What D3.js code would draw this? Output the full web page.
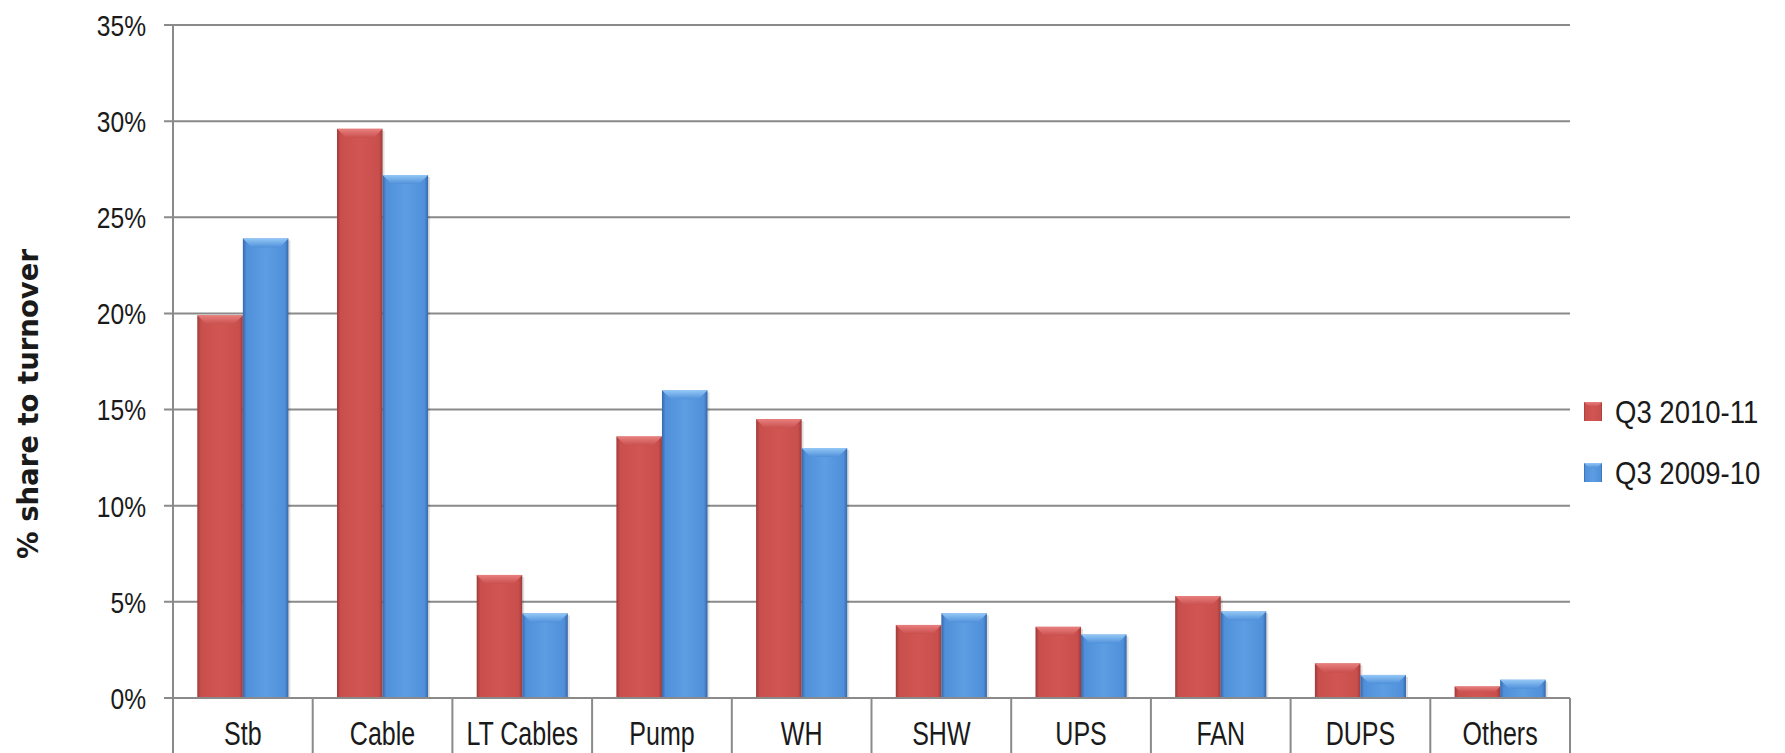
<!DOCTYPE html>
<html>
<head>
<meta charset="utf-8">
<script src="https://cdn.jsdelivr.net/npm/d3@7"></script>
<style>
  html, body { margin: 0; padding: 0; background: #ffffff; }
  svg { display: block; }
</style>
</head>
<body>
<svg id="chart" width="1785" height="753"></svg>
<script>
const categories = ["Stb", "Cable", "LT Cables", "Pump", "WH", "SHW", "UPS", "FAN", "DUPS", "Others"];
const seriesNames = ["Q3 2010-11", "Q3 2009-10"];
const q3_2010_11 = [0.199, 0.296, 0.064, 0.136, 0.145, 0.038, 0.037, 0.053, 0.018, 0.006];
const q3_2009_10 = [0.239, 0.272, 0.044, 0.160, 0.130, 0.044, 0.033, 0.045, 0.012, 0.0095];
const yTicks = [0, 0.05, 0.10, 0.15, 0.20, 0.25, 0.30, 0.35];
const yTitle = "% share to turnover";

(function () {
const seriesValues = [q3_2010_11, q3_2009_10];
const colors = [
  { id: "red",  edge: "#9e3b39", mid: "#d05553", base: "#c94f4d", top: "#e8807e" },
  { id: "blue", edge: "#3767aa", mid: "#5d9de2", base: "#5090da", top: "#93c8f6" }
];

const svg = d3.select("#chart");
const mLeft = 173, mRight = 1570, mTop = 25, mBottom = 698;
const fontSans = "'Liberation Sans', Arial, sans-serif";

const x0 = d3.scaleBand().domain(categories).range([mLeft, mRight]).paddingInner(0).paddingOuter(0);
const x1 = d3.scaleBand().domain(seriesNames).range([0, x0.bandwidth()]).paddingInner(0).paddingOuter(0.533);
const y = d3.scaleLinear().domain([0, 0.35]).range([mBottom, mTop]);

// gradients
const defs = svg.append("defs");
colors.forEach(c => {
  const g = defs.append("linearGradient").attr("id", "grad-" + c.id).attr("x1", "0").attr("x2", "1").attr("y1", "0").attr("y2", "0");
  g.append("stop").attr("offset", "0%").attr("stop-color", c.edge);
  g.append("stop").attr("offset", "8%").attr("stop-color", c.base);
  g.append("stop").attr("offset", "50%").attr("stop-color", c.mid);
  g.append("stop").attr("offset", "92%").attr("stop-color", c.base);
  g.append("stop").attr("offset", "100%").attr("stop-color", c.edge);
  const t = defs.append("linearGradient").attr("id", "top-" + c.id).attr("x1", "0").attr("x2", "0").attr("y1", "0").attr("y2", "1");
  t.append("stop").attr("offset", "0%").attr("stop-color", c.top);
  t.append("stop").attr("offset", "100%").attr("stop-color", c.base);
});

// gridlines
svg.append("g").selectAll("line").data(yTicks).join("line")
  .attr("x1", mLeft - 9).attr("x2", mRight)
  .attr("y1", d => y(d)).attr("y2", d => y(d))
  .attr("stroke", "#8a8a8a").attr("stroke-width", 2);

// y axis labels (narrowed)
svg.append("g").selectAll("text").data(yTicks).join("text")
  .attr("transform", d => `translate(146,${y(d)}) scale(0.82,1)`)
  .attr("dy", "0.36em")
  .attr("text-anchor", "end")
  .attr("font-family", fontSans)
  .attr("font-size", 30)
  .attr("fill", "#1a1a1a")
  .text(d => d3.format(".0%")(d));

// left axis line
svg.append("line").attr("x1", mLeft).attr("x2", mLeft).attr("y1", mTop).attr("y2", 753)
  .attr("stroke", "#8a8a8a").attr("stroke-width", 2);

// category separators below axis
const bounds = categories.map(c => x0(c)).concat([mRight]);
svg.append("g").selectAll("line").data(bounds).join("line")
  .attr("x1", d => d).attr("x2", d => d).attr("y1", mBottom).attr("y2", 753)
  .attr("stroke", "#8a8a8a").attr("stroke-width", 2);

// bars
const groups = svg.append("g").selectAll("g").data(categories).join("g")
  .attr("transform", d => `translate(${x0(d)},0)`);

seriesNames.forEach((s, si) => {
  const c = colors[si];
  groups.append("rect")
    .attr("x", x1(s) + 2).attr("y", (d, i) => y(seriesValues[si][i]) + 2)
    .attr("width", x1.bandwidth()).attr("height", (d, i) => mBottom - y(seriesValues[si][i]) - 2)
    .attr("fill", "rgba(0,0,0,0.12)");
  groups.append("rect")
    .attr("x", x1(s)).attr("y", (d, i) => y(seriesValues[si][i]))
    .attr("width", x1.bandwidth()).attr("height", (d, i) => mBottom - y(seriesValues[si][i]))
    .attr("fill", `url(#grad-${c.id})`);
  groups.append("path")
    .attr("d", (d, i) => {
      const yt = y(seriesValues[si][i]);
      const h = Math.min(9, (mBottom - yt) * 0.5);
      const xl = x1(s), xr = x1(s) + x1.bandwidth();
      return `M${xl},${yt}L${xr},${yt}L${xr - h},${yt + h}L${xl + h},${yt + h}Z`;
    })
    .attr("fill", `url(#top-${c.id})`);
});

// x axis baseline
svg.append("line").attr("x1", mLeft - 9).attr("x2", mRight).attr("y1", mBottom).attr("y2", mBottom)
  .attr("stroke", "#8a8a8a").attr("stroke-width", 2);

// category labels (narrowed)
svg.append("g").selectAll("text").data(categories).join("text")
  .attr("transform", d => `translate(${x0(d) + x0.bandwidth() / 2},745) scale(0.77,1)`)
  .attr("text-anchor", "middle")
  .attr("font-family", fontSans)
  .attr("font-size", 32.5)
  .attr("fill", "#1a1a1a")
  .text(d => d);

// y title
svg.append("text")
  .attr("transform", `translate(38,404) rotate(-90)`)
  .attr("text-anchor", "middle")
  .attr("font-family", "'DejaVu Sans', Verdana, sans-serif")
  .attr("font-weight", "bold")
  .attr("font-size", 27.5)
  .attr("fill", "#1a1a1a")
  .text(yTitle);

// legend
const legend = svg.append("g").selectAll("g").data(seriesNames).join("g")
  .attr("transform", (d, i) => `translate(1584,${411 + i * 61})`);
legend.append("rect").attr("x", 0).attr("y", -9).attr("width", 18).attr("height", 19)
  .attr("fill", (d, i) => `url(#grad-${colors[i].id})`);
legend.append("path").attr("d", "M0,-9L18,-9L13,-4L5,-4Z")
  .attr("fill", (d, i) => `url(#top-${colors[i].id})`);
legend.append("text")
  .attr("transform", "translate(31,0) scale(0.86,1)")
  .attr("dy", "0.36em")
  .attr("font-family", fontSans)
  .attr("font-size", 32)
  .attr("fill", "#1a1a1a")
  .text(d => d);
})();
</script>
</body>
</html>
